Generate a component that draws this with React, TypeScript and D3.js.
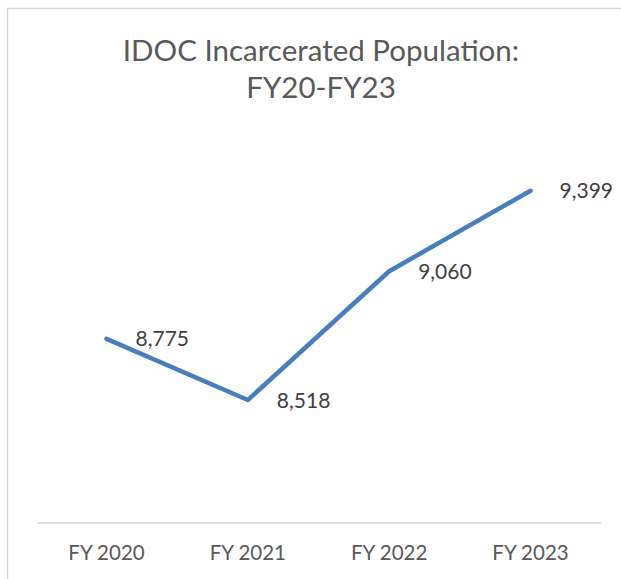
import React from "react";
import * as d3 from "d3";

const categories = ["FY 2020", "FY 2021", "FY 2022", "FY 2023"];
const population = [8775, 8518, 9060, 9399];
const titleLines = ["IDOC Incarcerated Population:", "FY20-FY23"];

const width = 621;
const height = 579;
const font = "Lato, 'Open Sans', sans-serif";
const textColor = "#595959";

const App = () => {
  const x = d3.scalePoint<string>().domain(categories).range([106.5, 530.5]);
  const y = d3.scaleLinear().domain([8000, 9600]).range([523, 143]);

  const line = d3
    .line<number>()
    .x((_, i) => x(categories[i]) as number)
    .y((d) => y(d));

  return (
    <svg
      width={width}
      height={height}
      style={{ position: "absolute", left: 0, top: 0, background: "#fff" }}
    >
      {/* chart frame */}
      <rect x={7.5} y={8.5} width={640} height={600} fill="none" stroke="#d9d9d9" strokeWidth={1.5} />

      {titleLines.map((t, i) => (
        <text
          key={t}
          x={321}
          y={61 + i * 37}
          textAnchor="middle"
          fontFamily={font}
          fontSize={29.5}
          fill={textColor}
        >
          {t}
        </text>
      ))}

      {/* x axis */}
      <line x1={37} x2={601} y1={523} y2={523} stroke="#d9d9d9" strokeWidth={1.5} />
      {categories.map((c) => (
        <text
          key={c}
          x={x(c)}
          y={560}
          textAnchor="middle"
          fontFamily={font}
          fontSize={20.5}
          fill={textColor}
        >
          {c}
        </text>
      ))}

      <path
        d={line(population) ?? ""}
        fill="none"
        stroke="#4a7ebb"
        strokeWidth={4.5}
        strokeLinecap="round"
        strokeLinejoin="round"
      />

      {population.map((v, i) => (
        <text
          key={i}
          x={(x(categories[i]) as number) + 29}
          y={y(v)}
          dy="0.36em"
          fontFamily={font}
          fontSize={21}
          fill="#404040"
        >
          {d3.format(",")(v)}
        </text>
      ))}
    </svg>
  );
};

export default App;
